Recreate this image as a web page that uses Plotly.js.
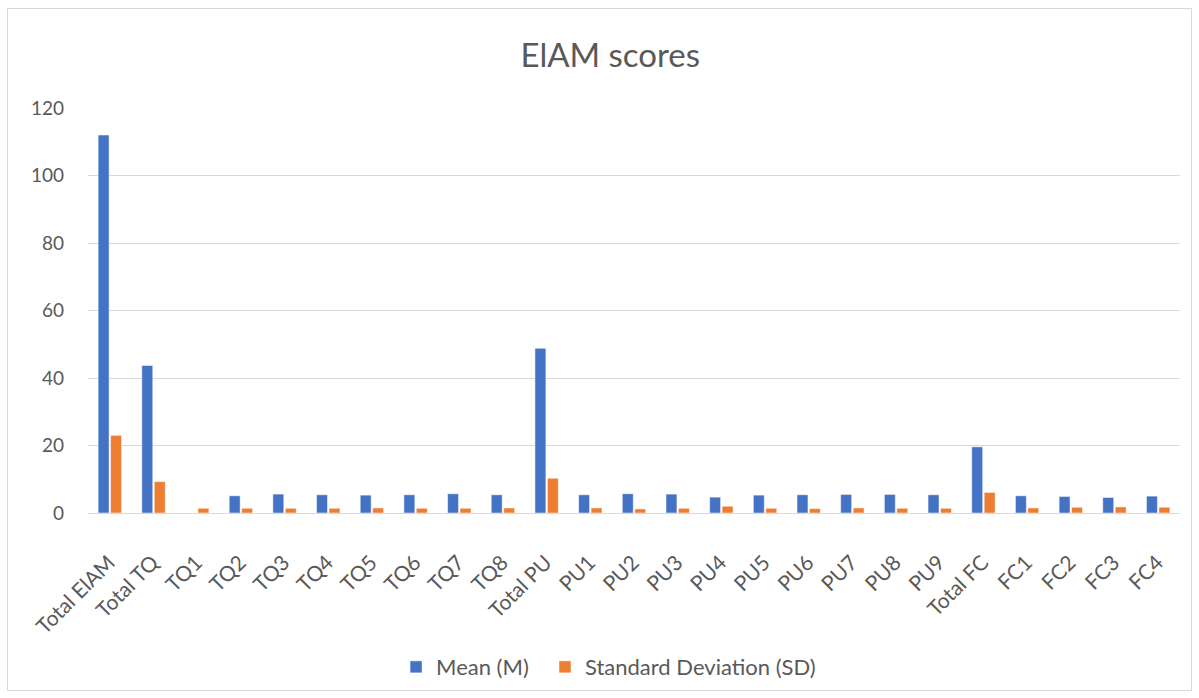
<!DOCTYPE html>
<html>
<head>
<meta charset="utf-8">
<script src="https://cdn.plot.ly/plotly-3.0.1.min.js"></script>
<style>
  html, body { margin: 0; padding: 0; background: #fff; }
  #chart { width: 1199px; height: 698px; }
  #frame { position: absolute; left: 7px; top: 8px; width: 1183px; height: 681px; border: 1px solid #D9D9D9; pointer-events: none; }
</style>
</head>
<body>
<div id="chart"></div>
<div id="frame"></div>
<script>
const categories = ["Total ElAM","Total TQ","TQ1","TQ2","TQ3","TQ4","TQ5","TQ6","TQ7","TQ8",
  "Total PU","PU1","PU2","PU3","PU4","PU5","PU6","PU7","PU8","PU9",
  "Total FC","FC1","FC2","FC3","FC4"];
const meanValues = [112.0, 43.7, 0, 5.1, 5.6, 5.4, 5.3, 5.4, 5.7, 5.4,
  48.8, 5.4, 5.7, 5.6, 4.7, 5.3, 5.4, 5.5, 5.5, 5.4,
  19.6, 5.1, 4.9, 4.6, 5.0];
const sdValues = [23.0, 9.3, 1.4, 1.4, 1.4, 1.4, 1.5, 1.4, 1.4, 1.5,
  10.3, 1.5, 1.2, 1.4, 2.0, 1.4, 1.3, 1.5, 1.4, 1.4,
  6.1, 1.5, 1.7, 1.8, 1.7];
const yTicks = [0, 20, 40, 60, 80, 100, 120];

const fontFam = "Lato, 'Open Sans', sans-serif";
const legendFont = { family: fontFam, size: 22, color: '#595959' };
const data = [
  { type: 'bar', name: 'Mean (M)', x: categories, y: meanValues, legend: 'legend',
    marker: { color: '#4472C4', line: { color: 'rgba(255,255,255,0.5)', width: 1 } } },
  { type: 'bar', name: 'Standard Deviation (SD)', x: categories, y: sdValues, legend: 'legend2',
    marker: { color: '#ED7D31', line: { color: 'rgba(255,255,255,0.5)', width: 1 } } }
];
const layout = {
  width: 1199, height: 698,
  margin: { l: 88, r: 19, t: 108, b: 184 },
  paper_bgcolor: '#fff', plot_bgcolor: '#fff',
  title: { text: 'ElAM scores', x: 0.509, xanchor: 'center', y: 0.921, yanchor: 'middle',
    font: { family: fontFam, size: 33, color: '#595959' } },
  barmode: 'group', bargap: 0.43, bargroupgap: 0.12,
  showlegend: true,
  legend: { orientation: 'h', x: 0.2821, xanchor: 'left', y: -0.377, yanchor: 'middle',
    font: legendFont, bgcolor: 'rgba(0,0,0,0)' },
  legend2: { orientation: 'h', x: 0.4185, xanchor: 'left', y: -0.377, yanchor: 'middle',
    font: legendFont, bgcolor: 'rgba(0,0,0,0)' },
  xaxis: { type: 'category', tickangle: -45, tickfont: { family: fontFam, size: 21, color: '#595959' },
    showgrid: false, showline: false, ticks: 'outside', ticklen: 16, tickcolor: 'rgba(0,0,0,0)',
    ticklabelstandoff: 12, ticklabelshift: -1, automargin: false },
  yaxis: { range: [0, 120], tickvals: yTicks, ticktext: yTicks.map(String),
    tickfont: { family: fontFam, size: 19, color: '#595959' },
    gridcolor: '#D9D9D9', gridwidth: 1, zeroline: true, zerolinecolor: '#D9D9D9', zerolinewidth: 1,
    showline: false, ticks: '', ticklabelstandoff: 23, automargin: false, fixedrange: true }
};
Plotly.newPlot('chart', data, layout, { displayModeBar: false, staticPlot: true });
</script>
</body>
</html>
